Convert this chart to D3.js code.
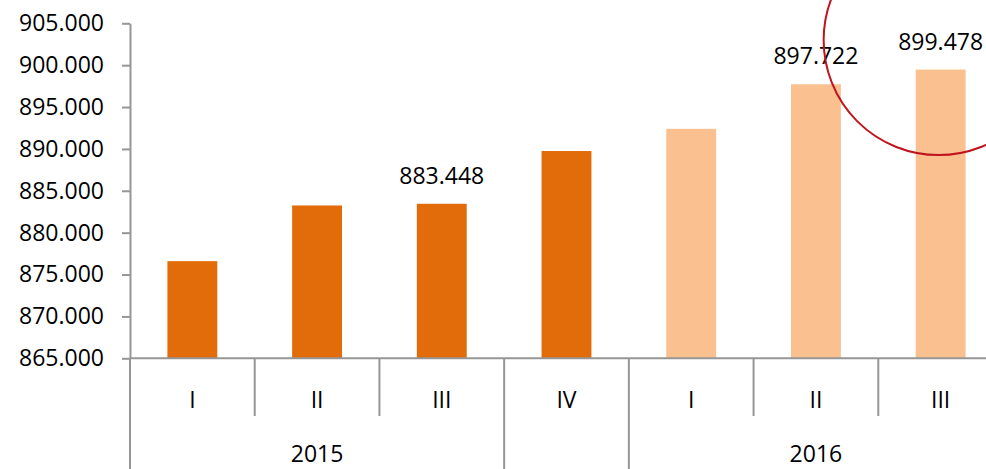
<!DOCTYPE html>
<html>
<head>
<meta charset="utf-8">
<script src="https://cdn.jsdelivr.net/npm/d3@7"></script>
<style>
  body { margin: 0; background: #fff; }
  svg { display: block; }
</style>
</head>
<body>
<div id="chart"></div>
<script>
// data
var quarters = ["I", "II", "III", "IV", "I", "II", "III"];
var years = ["2015", "2015", "2015", "", "2016", "2016", "2016"];
var values = [876600, 883250, 883448, 889750, 892400, 897722, 899478];
var showLabel = [false, false, true, false, false, true, true];
var yTicks = [865000, 870000, 875000, 880000, 885000, 890000, 895000, 900000, 905000];

var w = 986, h = 469;
var fontFamily = "'Open Sans', 'Liberation Sans', sans-serif";

var svg = d3.select("#chart")
  .append("svg")
  .attr("width", w)
  .attr("height", h);

// German style number format: 905.000
var locale = d3.formatLocale({ decimal: ",", thousands: ".", grouping: [3], currency: ["", ""] });
var fmt = locale.format(",.0f");

// scales
var y = d3.scaleLinear()
  .domain([865000, 905000])
  .range([358.3, 23.3]);

var slot = d3.scaleBand()
  .domain(d3.range(values.length))
  .range([130, 1003])
  .padding(0);

var barW = slot.bandwidth() * 0.4;

// bars
svg.selectAll("rect.bar")
  .data(values)
  .enter()
  .append("rect")
  .attr("class", "bar")
  .attr("x", function(d, i) { return slot(i) + slot.bandwidth() / 2 - barW / 2; })
  .attr("y", function(d) { return y(d); })
  .attr("width", barW)
  .attr("height", function(d) { return y(865000) - y(d); })
  .attr("fill", function(d, i) { return years[i] === "2016" ? "#FAC090" : "#E36C0A"; });

// value labels
svg.selectAll("text.val")
  .data(values.map(function(v, i) { return { v: v, i: i }; }).filter(function(d) { return showLabel[d.i]; }))
  .enter()
  .append("text")
  .attr("class", "val")
  .attr("x", function(d) { return slot(d.i) + slot.bandwidth() / 2; })
  .attr("y", function(d) { return y(d.v) - 20; })
  .attr("text-anchor", "middle")
  .attr("font-family", fontFamily)
  .attr("font-size", "23px")
  .attr("fill", "#000")
  .text(function(d) { return fmt(d.v); });

// y axis
var yAxis = svg.append("g")
  .attr("transform", "translate(130,0)")
  .call(d3.axisLeft(y).tickValues(yTicks).tickFormat(fmt).tickSize(8).tickSizeOuter(0).tickPadding(18));
yAxis.select(".domain").attr("stroke", "#969696").attr("stroke-width", 2);
yAxis.selectAll(".tick line").attr("stroke", "#969696").attr("stroke-width", 2);
yAxis.selectAll(".tick text")
  .attr("font-family", fontFamily)
  .attr("font-size", "23px")
  .attr("fill", "#000");

// category axis: baseline
svg.append("line")
  .attr("x1", 130).attr("x2", w)
  .attr("y1", y(865000)).attr("y2", y(865000))
  .attr("stroke", "#969696")
  .attr("stroke-width", 2);

// quarter separators (short) and group separators (long)
var bounds = d3.range(values.length + 1);
svg.selectAll("line.sep")
  .data(bounds)
  .enter()
  .append("line")
  .attr("class", "sep")
  .attr("x1", function(i) { return 130 + i * slot.step(); })
  .attr("x2", function(i) { return 130 + i * slot.step(); })
  .attr("y1", y(865000))
  .attr("y2", function(i) {
    var isGroup = i === 0 || i === values.length || years[i] !== years[i - 1];
    return isGroup ? h : 416;
  })
  .attr("stroke", "#969696")
  .attr("stroke-width", 2);

// quarter labels
svg.selectAll("text.q")
  .data(quarters)
  .enter()
  .append("text")
  .attr("class", "q")
  .attr("x", function(d, i) { return slot(i) + slot.bandwidth() / 2; })
  .attr("y", 408)
  .attr("text-anchor", "middle")
  .attr("font-family", fontFamily)
  .attr("font-size", "23px")
  .attr("fill", "#000")
  .text(function(d) { return d; });

// year labels, one per run of equal years
var groups = [];
years.forEach(function(yr, i) {
  if (i === 0 || yr !== years[i - 1]) groups.push({ year: yr, start: i, end: i });
  else groups[groups.length - 1].end = i;
});
svg.selectAll("text.yr")
  .data(groups.filter(function(g) { return g.year !== ""; }))
  .enter()
  .append("text")
  .attr("class", "yr")
  .attr("x", function(g) { return (slot(g.start) + slot(g.end) + slot.bandwidth()) / 2; })
  .attr("y", 462)
  .attr("text-anchor", "middle")
  .attr("font-family", fontFamily)
  .attr("font-size", "23px")
  .attr("fill", "#000")
  .text(function(g) { return g.year; });

// red highlight circle round the last quarter
var last = values.length - 1;
svg.append("circle")
  .attr("cx", slot(last) + slot.bandwidth() / 2 - 2)
  .attr("cy", y(903000))
  .attr("r", 115)
  .attr("fill", "none")
  .attr("stroke", "#C0141C")
  .attr("stroke-width", 2);
</script>
</body>
</html>
